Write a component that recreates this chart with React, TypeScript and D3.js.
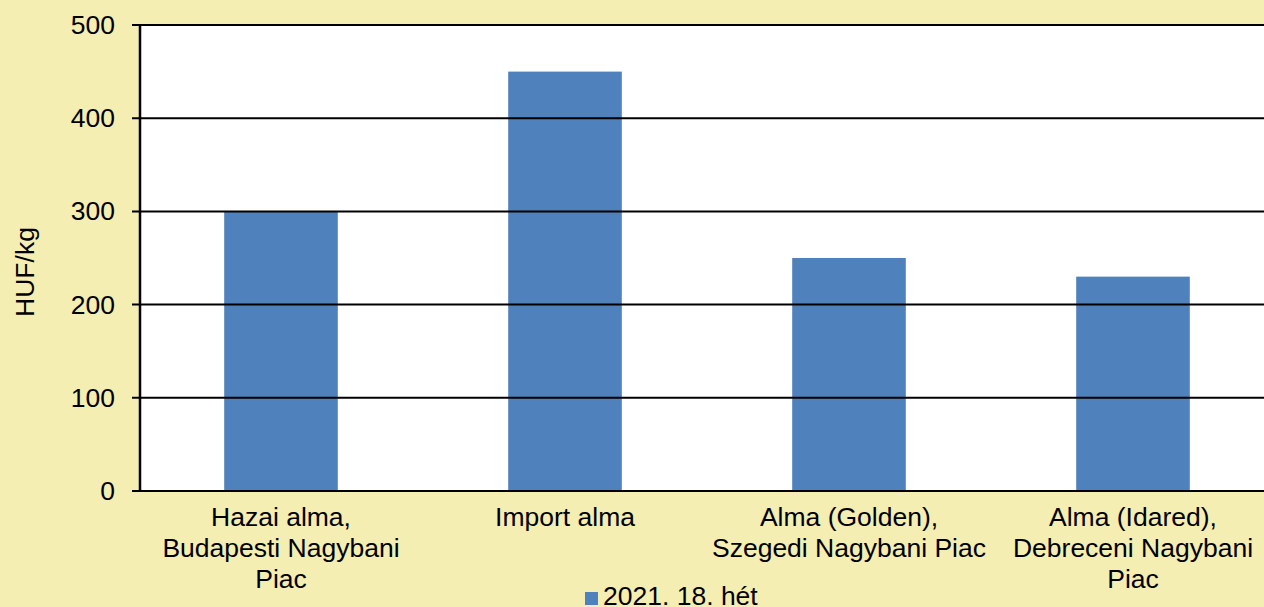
import React, { useEffect, useRef } from "react"
import * as d3 from "d3"

// categories (multi-line labels) and the one series
const categories = [
  ["Hazai alma,", "Budapesti Nagybani", "Piac"],
  ["Import alma"],
  ["Alma (Golden),", "Szegedi Nagybani Piac"],
  ["Alma (Idared),", "Debreceni Nagybani", "Piac"],
]
const values = [300, 450, 250, 230]
const yTicks = [0, 100, 200, 300, 400, 500]
const seriesName = "2021. 18. hét"
const yLabel = "HUF/kg"

const W = 1264
const H = 607
const FONT = "'Liberation Sans', Arial, sans-serif"
const FS = "26.5px"

const App = () => {
  const ref = useRef<SVGSVGElement>(null)

  useEffect(() => {
    const svg = d3.select(ref.current)
    svg.selectAll("*").remove()

    const left = 139, right = 1275, top = 25, bottom = 491

    const x = d3.scaleBand<number>()
      .domain(categories.map((_, i) => i))
      .range([left, right])
      .paddingInner(0.6)
      .paddingOuter(0.3)
    const y = d3.scaleLinear().domain([0, 500]).range([bottom, top])

    // background
    svg.append("rect").attr("width", W).attr("height", H).attr("fill", "#f4eeb3")
    svg.append("rect")
      .attr("x", left).attr("y", top)
      .attr("width", right - left).attr("height", bottom - top)
      .attr("fill", "#ffffff")

    // bars
    svg.selectAll(".bar")
      .data(values)
      .enter()
      .append("rect")
      .attr("x", (_, i) => x(i)!)
      .attr("y", d => y(d))
      .attr("width", x.bandwidth())
      .attr("height", d => bottom - y(d))
      .attr("fill", "#4f81bd")

    // gridlines + ticks
    const g = svg.append("g")
    g.selectAll(".grid")
      .data(yTicks)
      .enter()
      .append("line")
      .attr("x1", left - 7).attr("x2", right)
      .attr("y1", d => y(d)).attr("y2", d => y(d))
      .attr("stroke", "#000").attr("stroke-width", 2)
    g.append("line")
      .attr("x1", left + 1).attr("x2", left + 1)
      .attr("y1", top - 1).attr("y2", bottom + 1)
      .attr("stroke", "#000").attr("stroke-width", 2.5)

    g.selectAll(".ylab")
      .data(yTicks)
      .enter()
      .append("text")
      .attr("x", 115)
      .attr("y", d => y(d) + 9)
      .attr("text-anchor", "end")
      .style("font-family", FONT)
      .style("font-size", FS)
      .attr("fill", "#000")
      .text(d => d)

    // y axis title
    svg.append("text")
      .attr("transform", `translate(34, 272) rotate(-90)`)
      .attr("text-anchor", "middle")
      .style("font-family", FONT)
      .style("font-size", FS)
      .text(yLabel)

    // category labels
    categories.forEach((lines, i) => {
      const cx = x(i)! + x.bandwidth() / 2
      const t = svg.append("text")
        .attr("text-anchor", "middle")
        .style("font-family", FONT)
        .style("font-size", FS)
      lines.forEach((line, j) => {
        t.append("tspan").attr("x", cx).attr("y", 526 + j * 31).text(line)
      })
    })

    // legend
    svg.append("rect")
      .attr("x", 585).attr("y", 592).attr("width", 13).attr("height", 13)
      .attr("fill", "#4f81bd")
    svg.append("text")
      .attr("x", 603).attr("y", 605)
      .style("font-family", FONT)
      .style("font-size", FS)
      .text(seriesName)
  }, [])

  return (
    <svg ref={ref} width={W} height={H}
      style={{ position: "absolute", left: 0, top: 0, display: "block" }} />
  )
}

export default App
